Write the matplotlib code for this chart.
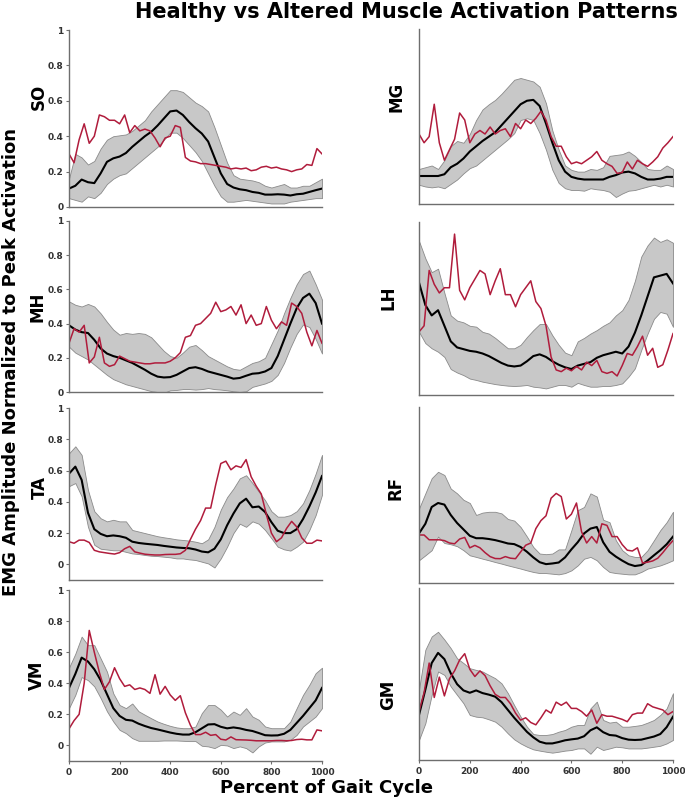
import numpy as np
import matplotlib
matplotlib.use('Agg')
import matplotlib.pyplot as plt

# eje x: porcentaje del ciclo de marcha (0-1000)
x_sano = np.arange(0, 1001, 25)
x_alt = np.arange(0, 1001, 20)

# ---- SO ----
so_media = [0.104, 0.12, 0.155, 0.14, 0.135, 0.19, 0.255, 0.275, 0.285, 0.305,
            0.34, 0.37, 0.40, 0.425, 0.46, 0.50, 0.54, 0.545, 0.52, 0.48,
            0.445, 0.415, 0.37, 0.28, 0.19, 0.13, 0.11, 0.10, 0.095, 0.085,
            0.08, 0.07, 0.07, 0.072, 0.07, 0.065, 0.072, 0.075, 0.085, 0.095,
            0.104]
so_sup = [0.16, 0.30, 0.28, 0.24, 0.26, 0.33, 0.38, 0.40, 0.405, 0.41,
          0.43, 0.46, 0.49, 0.54, 0.58, 0.62, 0.66, 0.66, 0.65, 0.62,
          0.59, 0.57, 0.54, 0.45, 0.35, 0.25, 0.18, 0.16, 0.155, 0.15,
          0.14, 0.12, 0.11, 0.12, 0.13, 0.11, 0.11, 0.12, 0.12, 0.14,
          0.16]
so_inf = [0.05, 0.04, 0.03, 0.06, 0.05, 0.08, 0.13, 0.16, 0.18, 0.19,
          0.22, 0.25, 0.28, 0.31, 0.34, 0.38, 0.42, 0.42, 0.39, 0.35,
          0.31, 0.26, 0.19, 0.12, 0.06, 0.03, 0.03, 0.035, 0.04, 0.035,
          0.03, 0.025, 0.02, 0.02, 0.02, 0.03, 0.035, 0.04, 0.045, 0.05,
          0.05]
so_alt = [0.30, 0.25, 0.38, 0.47, 0.36, 0.40, 0.52, 0.51, 0.49, 0.49,
          0.47, 0.52, 0.42, 0.46, 0.43, 0.44, 0.43, 0.39, 0.34, 0.39,
          0.40, 0.46, 0.45, 0.28, 0.26, 0.255, 0.245, 0.245, 0.24, 0.235,
          0.23, 0.225, 0.215, 0.22, 0.215, 0.22, 0.205, 0.21, 0.225, 0.23,
          0.22, 0.225, 0.215, 0.21, 0.20, 0.21, 0.215, 0.24, 0.235, 0.33,
          0.30]

# ---- MG ----
mg_media = [0.16, 0.16, 0.16, 0.16, 0.17, 0.21, 0.23, 0.26, 0.30, 0.33,
            0.36, 0.385, 0.41, 0.45, 0.49, 0.53, 0.57, 0.59, 0.595, 0.56,
            0.46, 0.35, 0.25, 0.185, 0.155, 0.145, 0.14, 0.14, 0.14, 0.14,
            0.155, 0.165, 0.18, 0.185, 0.175, 0.155, 0.14, 0.14, 0.145, 0.155,
            0.155]
mg_sup = [0.20, 0.21, 0.22, 0.20, 0.25, 0.33, 0.36, 0.35, 0.40, 0.48,
          0.54, 0.57, 0.595, 0.63, 0.67, 0.71, 0.72, 0.71, 0.70, 0.67,
          0.575, 0.42, 0.31, 0.22, 0.195, 0.185, 0.185, 0.20, 0.195, 0.21,
          0.275, 0.28, 0.285, 0.30, 0.275, 0.24, 0.20, 0.195, 0.195, 0.22,
          0.20]
mg_inf = [0.11, 0.10, 0.095, 0.10, 0.09, 0.115, 0.14, 0.175, 0.205, 0.22,
          0.25, 0.28, 0.31, 0.34, 0.37, 0.405, 0.48, 0.49, 0.48, 0.405,
          0.31, 0.195, 0.12, 0.09, 0.08, 0.08, 0.076, 0.09, 0.084, 0.08,
          0.07, 0.04, 0.06, 0.076, 0.08, 0.09, 0.10, 0.11, 0.10, 0.11,
          0.10]
mg_alt = [0.40, 0.35, 0.385, 0.57, 0.35, 0.25, 0.31, 0.37, 0.52, 0.48,
          0.35, 0.40, 0.42, 0.40, 0.44, 0.40, 0.42, 0.43, 0.385, 0.46,
          0.43, 0.48, 0.46, 0.49, 0.53, 0.48, 0.385, 0.33, 0.33, 0.27,
          0.23, 0.24, 0.23, 0.25, 0.27, 0.30, 0.25, 0.23, 0.215, 0.175,
          0.18, 0.24, 0.20, 0.25, 0.23, 0.215, 0.24, 0.27, 0.32, 0.35,
          0.385]

# ---- MH ----
mh_media = [0.39, 0.365, 0.35, 0.345, 0.305, 0.255, 0.225, 0.21, 0.20, 0.185,
            0.17, 0.15, 0.13, 0.107, 0.09, 0.085, 0.087, 0.10, 0.12, 0.14,
            0.145, 0.135, 0.12, 0.11, 0.10, 0.09, 0.078, 0.082, 0.095, 0.107,
            0.11, 0.12, 0.14, 0.21, 0.305, 0.40, 0.49, 0.55, 0.575, 0.52,
            0.40]
mh_sup = [0.53, 0.51, 0.50, 0.515, 0.50, 0.46, 0.41, 0.365, 0.335, 0.345,
          0.34, 0.345, 0.34, 0.32, 0.28, 0.24, 0.21, 0.20, 0.23, 0.265,
          0.275, 0.245, 0.21, 0.19, 0.17, 0.15, 0.135, 0.13, 0.15, 0.17,
          0.18, 0.20, 0.28, 0.36, 0.46, 0.55, 0.63, 0.69, 0.71, 0.63,
          0.54]
mh_inf = [0.265, 0.23, 0.21, 0.19, 0.16, 0.13, 0.10, 0.075, 0.06, 0.045,
          0.035, 0.025, 0.015, 0.005, 0.0, -0.005, 0.01, 0.012, 0.017, 0.017,
          0.014, 0.017, 0.023, 0.017, 0.014, 0.01, 0.004, 0.0, 0.004, 0.03,
          0.04, 0.05, 0.065, 0.10, 0.17, 0.26, 0.34, 0.395, 0.38, 0.31,
          0.225]
mh_alt = [0.285, 0.37, 0.35, 0.39, 0.17, 0.205, 0.32, 0.17, 0.15, 0.16,
          0.21, 0.195, 0.18, 0.175, 0.17, 0.165, 0.165, 0.17, 0.17, 0.17,
          0.18, 0.20, 0.23, 0.32, 0.33, 0.39, 0.40, 0.43, 0.46, 0.525,
          0.47, 0.48, 0.50, 0.45, 0.51, 0.40, 0.45, 0.39, 0.40, 0.50,
          0.42, 0.37, 0.41, 0.39, 0.52, 0.50, 0.46, 0.35, 0.27, 0.36,
          0.285]

# ---- LH ----
lh_media = [0.65, 0.52, 0.46, 0.49, 0.40, 0.31, 0.275, 0.265, 0.255, 0.25,
            0.24, 0.225, 0.205, 0.185, 0.17, 0.165, 0.17, 0.195, 0.225, 0.235,
            0.22, 0.195, 0.175, 0.16, 0.15, 0.17, 0.18, 0.19, 0.215, 0.23,
            0.24, 0.25, 0.24, 0.28, 0.36, 0.46, 0.57, 0.68, 0.69, 0.70,
            0.645]
lh_sup = [0.89, 0.79, 0.71, 0.73, 0.59, 0.46, 0.43, 0.42, 0.40, 0.395,
          0.365, 0.355, 0.33, 0.30, 0.27, 0.27, 0.29, 0.335, 0.375, 0.41,
          0.41, 0.345, 0.29, 0.245, 0.23, 0.31, 0.33, 0.355, 0.375, 0.40,
          0.42, 0.46, 0.49, 0.55, 0.66, 0.80, 0.865, 0.91, 0.885, 0.90,
          0.88]
lh_inf = [0.365, 0.30, 0.27, 0.25, 0.22, 0.15, 0.13, 0.115, 0.095, 0.087,
          0.077, 0.07, 0.063, 0.058, 0.054, 0.052, 0.054, 0.058, 0.048, 0.044,
          0.038, 0.048, 0.058, 0.058, 0.048, 0.07, 0.058, 0.048, 0.048, 0.052,
          0.052, 0.058, 0.067, 0.106, 0.154, 0.26, 0.355, 0.44, 0.48, 0.47,
          0.394]
lh_alt = [0.365, 0.40, 0.72, 0.64, 0.59, 0.62, 0.62, 0.93, 0.605, 0.55,
          0.62, 0.67, 0.72, 0.70, 0.58, 0.66, 0.73, 0.58, 0.58, 0.51,
          0.58, 0.62, 0.66, 0.54, 0.50, 0.40, 0.22, 0.145, 0.135, 0.155,
          0.14, 0.165, 0.145, 0.19, 0.17, 0.20, 0.135, 0.125, 0.135, 0.11,
          0.17, 0.24, 0.23, 0.28, 0.34, 0.23, 0.27, 0.16, 0.175, 0.26,
          0.355]

# ---- TA ----
ta_media = [0.58, 0.625, 0.54, 0.33, 0.225, 0.195, 0.18, 0.185, 0.18, 0.17,
            0.145, 0.137, 0.132, 0.128, 0.124, 0.118, 0.113, 0.108, 0.105, 0.103,
            0.095, 0.082, 0.077, 0.10, 0.16, 0.25, 0.325, 0.39, 0.42, 0.365,
            0.37, 0.335, 0.27, 0.215, 0.20, 0.20, 0.225, 0.29, 0.37, 0.46,
            0.565]
ta_sup = [0.71, 0.755, 0.70, 0.475, 0.34, 0.295, 0.275, 0.285, 0.275, 0.275,
          0.22, 0.21, 0.20, 0.19, 0.18, 0.173, 0.167, 0.16, 0.156, 0.152,
          0.145, 0.135, 0.16, 0.24, 0.35, 0.43, 0.485, 0.55, 0.57, 0.52,
          0.465, 0.41, 0.34, 0.305, 0.305, 0.315, 0.34, 0.39, 0.475, 0.58,
          0.70]
ta_inf = [0.50, 0.52, 0.435, 0.24, 0.125, 0.10, 0.095, 0.09, 0.09, 0.08,
          0.07, 0.066, 0.06, 0.055, 0.053, 0.049, 0.045, 0.038, 0.038, 0.032,
          0.028, 0.017, 0.006, -0.02, 0.038, 0.113, 0.20, 0.26, 0.24, 0.275,
          0.26, 0.22, 0.167, 0.113, 0.096, 0.088, 0.113, 0.145, 0.22, 0.315,
          0.445]
ta_alt = [0.145, 0.135, 0.155, 0.155, 0.14, 0.09, 0.08, 0.075, 0.07, 0.066,
          0.075, 0.10, 0.115, 0.08, 0.072, 0.065, 0.062, 0.06, 0.06, 0.063,
          0.064, 0.064, 0.068, 0.09, 0.16, 0.225, 0.28, 0.36, 0.36, 0.51,
          0.645, 0.66, 0.605, 0.63, 0.62, 0.67, 0.56, 0.50, 0.45, 0.32,
          0.20, 0.145, 0.17, 0.23, 0.275, 0.24, 0.17, 0.135, 0.135, 0.155,
          0.15]

# ---- RF ----
rf_media = [0.21, 0.27, 0.375, 0.40, 0.39, 0.325, 0.275, 0.235, 0.195, 0.18,
            0.18, 0.175, 0.168, 0.158, 0.147, 0.143, 0.125, 0.095, 0.06, 0.03,
            0.018, 0.022, 0.028, 0.06, 0.11, 0.155, 0.21, 0.24, 0.25, 0.155,
            0.095, 0.065, 0.04, 0.018, 0.006, 0.012, 0.04, 0.073, 0.105, 0.142,
            0.19]
rf_sup = [0.365, 0.46, 0.555, 0.595, 0.575, 0.49, 0.46, 0.42, 0.40, 0.325,
          0.34, 0.345, 0.345, 0.335, 0.30, 0.29, 0.25, 0.19, 0.125, 0.084,
          0.08, 0.084, 0.11, 0.11, 0.23, 0.355, 0.375, 0.46, 0.44, 0.295,
          0.28, 0.167, 0.105, 0.073, 0.063, 0.063, 0.105, 0.167, 0.23, 0.28,
          0.345]
rf_inf = [0.042, 0.073, 0.105, 0.19, 0.15, 0.142, 0.13, 0.105, 0.073, 0.063,
          0.052, 0.042, 0.031, 0.021, 0.01, 0.0, -0.01, -0.021, -0.031, -0.038,
          -0.038, -0.042, -0.046, -0.038, -0.021, 0.01, 0.052, 0.063, 0.042, 0.0,
          -0.031, -0.038, -0.042, -0.046, -0.046, -0.031, -0.01, 0.0, 0.01, 0.025,
          0.042]
rf_alt = [0.20, 0.20, 0.17, 0.17, 0.17, 0.165, 0.15, 0.145, 0.175, 0.185,
          0.12, 0.135, 0.12, 0.09, 0.065, 0.053, 0.052, 0.065, 0.055, 0.052,
          0.094, 0.136, 0.15, 0.24, 0.29, 0.32, 0.43, 0.46, 0.44, 0.30,
          0.33, 0.40, 0.22, 0.15, 0.19, 0.15, 0.27, 0.26, 0.19, 0.19,
          0.14, 0.105, 0.10, 0.12, 0.025, 0.03, 0.038, 0.055, 0.09, 0.13,
          0.165]

# ---- VM ----
vm_media = [0.37, 0.46, 0.565, 0.54, 0.49, 0.42, 0.33, 0.24, 0.19, 0.165,
            0.16, 0.14, 0.125, 0.112, 0.103, 0.093, 0.083, 0.075, 0.07, 0.07,
            0.085, 0.11, 0.135, 0.137, 0.12, 0.11, 0.116, 0.11, 0.10, 0.093,
            0.08, 0.066, 0.064, 0.065, 0.075, 0.10, 0.145, 0.19, 0.24, 0.29,
            0.37]
vm_sup = [0.50, 0.59, 0.70, 0.645, 0.645, 0.56, 0.475, 0.335, 0.26, 0.24,
          0.27, 0.22, 0.197, 0.175, 0.154, 0.139, 0.126, 0.116, 0.111, 0.111,
          0.122, 0.208, 0.26, 0.26, 0.23, 0.186, 0.218, 0.197, 0.24, 0.186,
          0.165, 0.122, 0.111, 0.111, 0.111, 0.154, 0.24, 0.325, 0.39, 0.465,
          0.50]
vm_inf = [0.24, 0.325, 0.44, 0.42, 0.38, 0.305, 0.22, 0.154, 0.10, 0.079,
          0.047, 0.03, 0.03, 0.03, 0.03, 0.032, 0.032, 0.032, 0.03, 0.028,
          0.028, -0.002, -0.006, -0.017, 0.004, 0.0, -0.017, -0.006, -0.017, -0.045,
          -0.006, 0.019, 0.026, 0.026, 0.026, 0.036, 0.068, 0.122, 0.154, 0.186,
          0.24]
vm_alt = [0.107, 0.16, 0.20, 0.40, 0.74, 0.60, 0.47, 0.36, 0.41, 0.50,
          0.43, 0.38, 0.39, 0.36, 0.37, 0.36, 0.335, 0.455, 0.33, 0.38,
          0.325, 0.29, 0.32, 0.21, 0.13, 0.07, 0.07, 0.085, 0.065, 0.07,
          0.04, 0.035, 0.055, 0.037, 0.036, 0.035, 0.033, 0.03, 0.03, 0.03,
          0.03, 0.032, 0.032, 0.03, 0.032, 0.038, 0.04, 0.036, 0.036, 0.10,
          0.094]

# ---- GM ----
gm_media = [0.188, 0.35, 0.52, 0.585, 0.545, 0.455, 0.385, 0.345, 0.33, 0.345,
            0.328, 0.318, 0.305, 0.27, 0.22, 0.17, 0.125, 0.08, 0.045, 0.017,
            0.006, 0.006, 0.015, 0.026, 0.032, 0.037, 0.052, 0.09, 0.109, 0.078,
            0.06, 0.056, 0.04, 0.03, 0.028, 0.03, 0.04, 0.05, 0.066, 0.11,
            0.177]
gm_sup = [0.35, 0.605, 0.69, 0.72, 0.67, 0.615, 0.55, 0.52, 0.487, 0.476,
          0.466, 0.444, 0.423, 0.39, 0.327, 0.25, 0.177, 0.113, 0.066, 0.06,
          0.06, 0.066, 0.081, 0.092, 0.113, 0.124, 0.124, 0.23, 0.273, 0.156,
          0.139, 0.145, 0.113, 0.113, 0.118, 0.124, 0.139, 0.156, 0.188, 0.23,
          0.327]
gm_inf = [0.028, 0.135, 0.316, 0.466, 0.444, 0.37, 0.316, 0.263, 0.188, 0.177,
          0.173, 0.16, 0.145, 0.113, 0.07, 0.032, 0.006, -0.015, -0.032, -0.04,
          -0.047, -0.053, -0.047, -0.04, -0.036, -0.026, -0.026, -0.06, -0.015, -0.036,
          -0.026, -0.015, -0.019, -0.026, -0.026, -0.026, -0.021, -0.015, -0.009, 0.006,
          0.028]
gm_alt = [0.21, 0.33, 0.52, 0.30, 0.43, 0.31, 0.42, 0.47, 0.54, 0.58,
          0.48, 0.434, 0.47, 0.44, 0.375, 0.32, 0.30, 0.30, 0.26, 0.20,
          0.155, 0.17, 0.14, 0.125, 0.17, 0.22, 0.20, 0.27, 0.25, 0.27,
          0.23, 0.23, 0.21, 0.18, 0.22, 0.135, 0.19, 0.18, 0.18, 0.17,
          0.16, 0.145, 0.19, 0.20, 0.20, 0.26, 0.24, 0.23, 0.22, 0.19,
          0.21]

musculos = ['SO', 'MG', 'MH', 'LH', 'TA', 'RF', 'VM', 'GM']
ytick_vals = [0, 0.2, 0.4, 0.6, 0.8, 1]
ytick_txt = ['0', '0.2', '0.4', '0.6', '0.8', '1']
xtick_vals = [0, 200, 400, 600, 800, 1000]

datos = {
    'SO': (so_media, so_sup, so_inf, so_alt),
    'MG': (mg_media, mg_sup, mg_inf, mg_alt),
    'MH': (mh_media, mh_sup, mh_inf, mh_alt),
    'LH': (lh_media, lh_sup, lh_inf, lh_alt),
    'TA': (ta_media, ta_sup, ta_inf, ta_alt),
    'RF': (rf_media, rf_sup, rf_inf, rf_alt),
    'VM': (vm_media, vm_sup, vm_inf, vm_alt),
    'GM': (gm_media, gm_sup, gm_inf, gm_alt),
}

W, H = 685, 800
# cajas de cada panel en pixeles: (izq, arriba, der, abajo), y limite inferior del eje y
cajas = {
    'SO': (69, 30, 322, 207, 0.0), 'MG': (419, 29, 673, 204, 0.0),
    'MH': (69, 221, 322, 392, 0.0), 'LH': (419, 222, 673, 395, 0.0),
    'TA': (69, 408, 322, 580, -0.1), 'RF': (419, 407, 673, 583, -0.1),
    'VM': (69, 590, 322, 761, -0.1), 'GM': (419, 588, 673, 760, -0.1),
}
# centro de la etiqueta de cada musculo (coordenadas del eje)
pos_etiqueta = {
    'SO': (-0.12, 0.62), 'MG': (-0.087, 0.61), 'MH': (-0.126, 0.5), 'LH': (-0.122, 0.56),
    'TA': (-0.115, 0.54), 'RF': (-0.094, 0.54), 'VM': (-0.126, 0.5), 'GM': (-0.122, 0.38),
}

rojo = '#b01c3c'
gris_eje = '#6e6e6e'
gris_txt = '#333333'

fig = plt.figure(figsize=(W / 100, H / 100), dpi=100)

for i, m in enumerate(musculos):
    x0, y0, x1, y1, ymin = cajas[m]
    ax = fig.add_axes([x0 / W, 1 - y1 / H, (x1 - x0) / W, (y1 - y0) / H])
    media, sup, inf, alt = datos[m]
    ax.fill_between(x_sano, inf, sup, facecolor='#c8c8c8', edgecolor='#8a8a8a', linewidth=0.6)
    ax.plot(x_sano, media, color='black', linewidth=1.5)
    ax.plot(x_alt, alt, color=rojo, linewidth=1.1)
    ax.set_xlim(0, 1000)
    ax.set_ylim(ymin, 1)

    for lado in ['top', 'right']:
        ax.spines[lado].set_visible(False)
    for lado in ['left', 'bottom']:
        ax.spines[lado].set_color(gris_eje)
        ax.spines[lado].set_linewidth(1.0)

    izquierda = (i % 2 == 0)
    abajo = (i >= 6)
    if izquierda:
        ax.set_yticks(ytick_vals)
        ax.set_yticklabels(ytick_txt, fontsize=6.5, fontweight='bold', color=gris_txt)
        ax.tick_params(axis='y', length=2, width=0.8, color=gris_eje, pad=2)
    else:
        ax.set_yticks([])
    if abajo:
        ax.set_xticks(xtick_vals)
        ax.set_xticklabels([str(v) for v in xtick_vals], fontsize=6.5, fontweight='bold', color=gris_txt)
        ax.tick_params(axis='x', length=2, width=0.8, color=gris_eje, pad=3)
    else:
        ax.set_xticks([])

    ax.set_ylabel(m, fontsize=12, fontweight='bold', va='center')
    ax.yaxis.set_label_coords(*pos_etiqueta[m])

fig.text(0.99, 0.997, 'Healthy vs Altered Muscle Activation Patterns',
         ha='right', va='top', fontsize=15, fontweight='bold')
fig.text(0.016, 0.547, 'EMG Amplitude Normalized to Peak Activation',
         ha='center', va='center', rotation=90, fontsize=13, fontweight='bold')
fig.text(0.476, 0.015, 'Percent of Gait Cycle',
         ha='center', va='center', fontsize=13, fontweight='bold')

fig.savefig('out.png', dpi=100)
